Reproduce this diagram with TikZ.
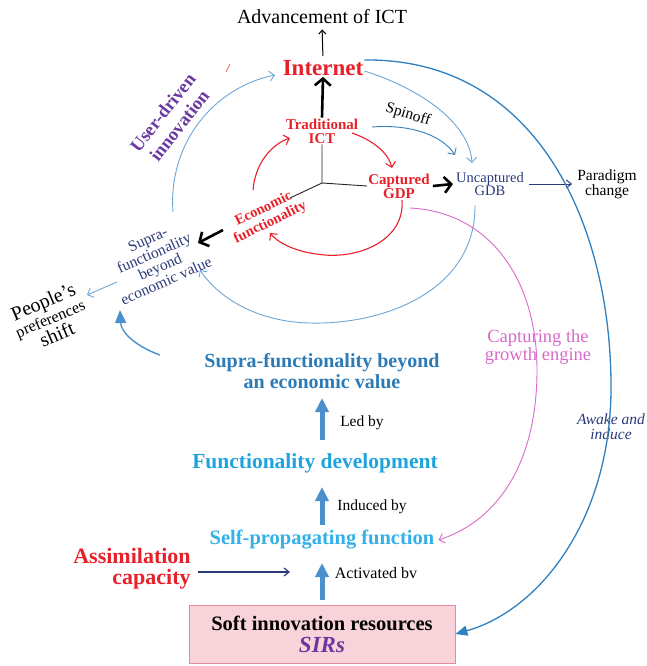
\documentclass[tikz,border=0pt]{standalone}
\usepackage{fontspec}
\setmainfont{Liberation Serif}
\usetikzlibrary{arrows.meta}
\definecolor{cred}{HTML}{E8202A}
\definecolor{cnavy}{HTML}{2B3A7A}
\definecolor{cpurple}{HTML}{6A3AA0}
\definecolor{clblue}{HTML}{6AA6D8}
\definecolor{cblue}{HTML}{2F80C0}
\definecolor{carrblue}{HTML}{4B8FCC}
\definecolor{csupra}{HTML}{2C7BB6}
\definecolor{cfdev}{HTML}{1FA3DE}
\definecolor{cspf}{HTML}{33B0E6}
\definecolor{cmag}{HTML}{D86AC8}
\definecolor{cpinkfill}{HTML}{F8D3DA}
\definecolor{cpinkline}{HTML}{E48A9C}
\newcommand{\fsl}[2]{\fontsize{#1}{#2}\selectfont}
\tikzset{
  txt/.style={inner sep=1pt, align=center},
  redlbl/.style={txt, text=cred, font=\bfseries\fsl{15}{14}},
  thickblk/.style={line width=2.6pt, -{Straight Barb[length=7pt,width=16pt,line width=2.6pt]}},
  thinarc/.style={line width=0.9pt, -{Straight Barb[length=5pt,width=10pt]}},
  redarc/.style={cred, line width=1.1pt, -{Straight Barb[length=5pt,width=10pt]}},
  bluearr/.style={carrblue, line width=5pt, -{Triangle[width=13pt,length=14pt]}},
}
\begin{document}
\begin{tikzpicture}[x=1pt,y=-1pt]
\useasboundingbox (0,0) rectangle (647,666);
% nodes
\node[txt, font=\fsl{20}{22}] (adv) at (322,17) {Advancement of ICT};
\node[txt, text=cred, font=\bfseries\fsl{23}{25}] (inet) at (323,68) {Internet};
\node[redlbl] (trad) at (322,131) {Traditional\\ICT};
\node[redlbl] (capt) at (399,186) {Captured\\GDP};
\node[redlbl, font=\bfseries\fsl{14.5}{14}, rotate=26] (econ) at (267,216) {Economic\\[1pt]functionality};
\node[txt, text=cnavy, font=\fsl{14.5}{13.5}] (uncap) at (490,184) {Uncaptured\\GDB};
\node[txt, font=\fsl{15.5}{13.5}] (para) at (607,184) {Paradigm\\change};
\node[txt, font=\fsl{15.5}{16}, rotate=-17] (spin) at (408,115) {Spinoff};
\node[txt, text=cpurple, font=\bfseries\fsl{18.5}{19}, rotate=52] (user) at (171,119) {User-driven\\[2pt]innovation};
\node[txt, text=cnavy, font=\fsl{15.5}{12.5}, rotate=24] (supra) at (157,260) {Supra-\\functionality\\beyond\\economic value};
\node[txt, rotate=23, font=\fsl{20}{17}] (people) at (50,318) {People's\\{\fsl{16}{17}preferences}\\shift};
\node[txt, text=csupra, font=\bfseries\fsl{20}{21}] (supra2) at (322,371) {Supra-functionality beyond\\an economic value};
\node[txt, font=\fsl{15.5}{16}] (led) at (362,423) {Led by};
\node[txt, text=cfdev, font=\bfseries\fsl{21.5}{22}] (fdev) at (315,463) {Functionality development};
\node[txt, font=\fsl{15.5}{16}] (ind) at (372,507) {Induced by};
\node[txt, text=cspf, font=\bfseries\fsl{20.5}{21}] (spf) at (322,540) {Self-propagating function};
\node[txt, align=right, text=cred, font=\bfseries\fsl{22}{21}] (assim) at (132,569) {Assimilation\\capacity};
\node[txt, font=\fsl{16}{16}] (act) at (376,573) {Activated bv};
\node[txt, draw=cpinkline, fill=cpinkfill, line width=0.8pt, minimum width=266pt, minimum height=58pt, font=\bfseries\fsl{20.5}{22}] (sirs) at (322,634) {Soft innovation resources\\{\color{cpurple}\itshape\fsl{23}{22}SIRs}};
\node[txt, text=cmag, font=\fsl{18.5}{18}] (capg) at (538,347) {Capturing the\\growth engine};
\node[txt, text=cnavy, font=\itshape\fsl{15.5}{15}] (awake) at (611,427) {Awake and\\induce};
\coordinate (axc) at (322,183);
\coordinate (assimend) at (290,572);
\coordinate (econtail) at (223,230);
\coordinate (supratip) at (198,243);
% axes
\draw[black!85, line width=0.9pt] (axc) -- (trad.south) (axc) -- (capt.west) (axc) -- (290,198);
% black arrows
\draw[line width=1pt, shorten <=3pt, shorten >=4pt, -{Straight Barb[length=4pt,width=7pt]}] (inet.north) -- (adv.south);
\draw[thickblk] (trad.north) -- (inet.south);
\draw[thickblk] ([xshift=2pt]capt.east) -- ([xshift=-2pt]uncap.west);
\draw[thickblk] (econtail) -- (supratip);
\draw[cnavy, line width=1pt, -{Straight Barb[length=5pt,width=8pt]}] ([xshift=4pt]uncap.east) -- ([xshift=-4pt]para.west);
% red cycle
\draw[redarc] (253,190) .. controls (255,165) and (270,145) .. (290,138);
\draw[redarc] (352,133) .. controls (372,140) and (388,152) .. (392,168);
\draw[redarc] (402,200) .. controls (405,240) and (360,258) .. (325,255) .. controls (300,253) and (280,245) .. (270,233);
% blue arcs
\draw[thinarc, cblue] (372,127) .. controls (410,124) and (442,135) .. (455,155);
\draw[thinarc, clblue] ([yshift=-3pt]inet.east) .. controls (430,92) and (470,128) .. (472,163);
\draw[thinarc, clblue] (173,212) .. controls (168,145) and (212,88) .. (275,75);
\draw[thinarc, clblue] (475,205) .. controls (476,290) and (385,325) .. (310,323) .. controls (260,322) and (220,300) .. (200,270);
\draw[thinarc, clblue] (117,282) -- (87,295);
\draw[carrblue, line width=1.4pt, -{Triangle[width=11pt,length=13pt]}] (160,355) .. controls (135,346) and (121,332) .. (120,310);
\draw[cblue, line width=1.3pt, -{Triangle[width=10pt,length=12pt]}] ([yshift=8pt]inet.east) .. controls (540,58) and (612,230) .. (611,390) .. controls (610,520) and (540,610) .. (sirs.east);
% magenta
\draw[cmag, line width=0.9pt, -{Straight Barb[length=5pt,width=10pt]}] (410,208) .. controls (490,212) and (537,280) .. (537,370) .. controls (537,460) and (500,520) .. ([xshift=3pt]spf.east);
% vertical blue arrows
\draw[bluearr] (322,600) -- (322,563);
\draw[bluearr] (322,525) -- (322,487);
\draw[bluearr] (322,440) -- (322,398);
\draw[cnavy, line width=1.2pt, -{Straight Barb[length=5pt,width=8pt]}] ([xshift=6pt]assim.east |- assimend) -- (assimend);
% stray mark
\draw[cred!70, line width=0.8pt] (226,72) -- (230,64);
\end{tikzpicture}
\end{document}
